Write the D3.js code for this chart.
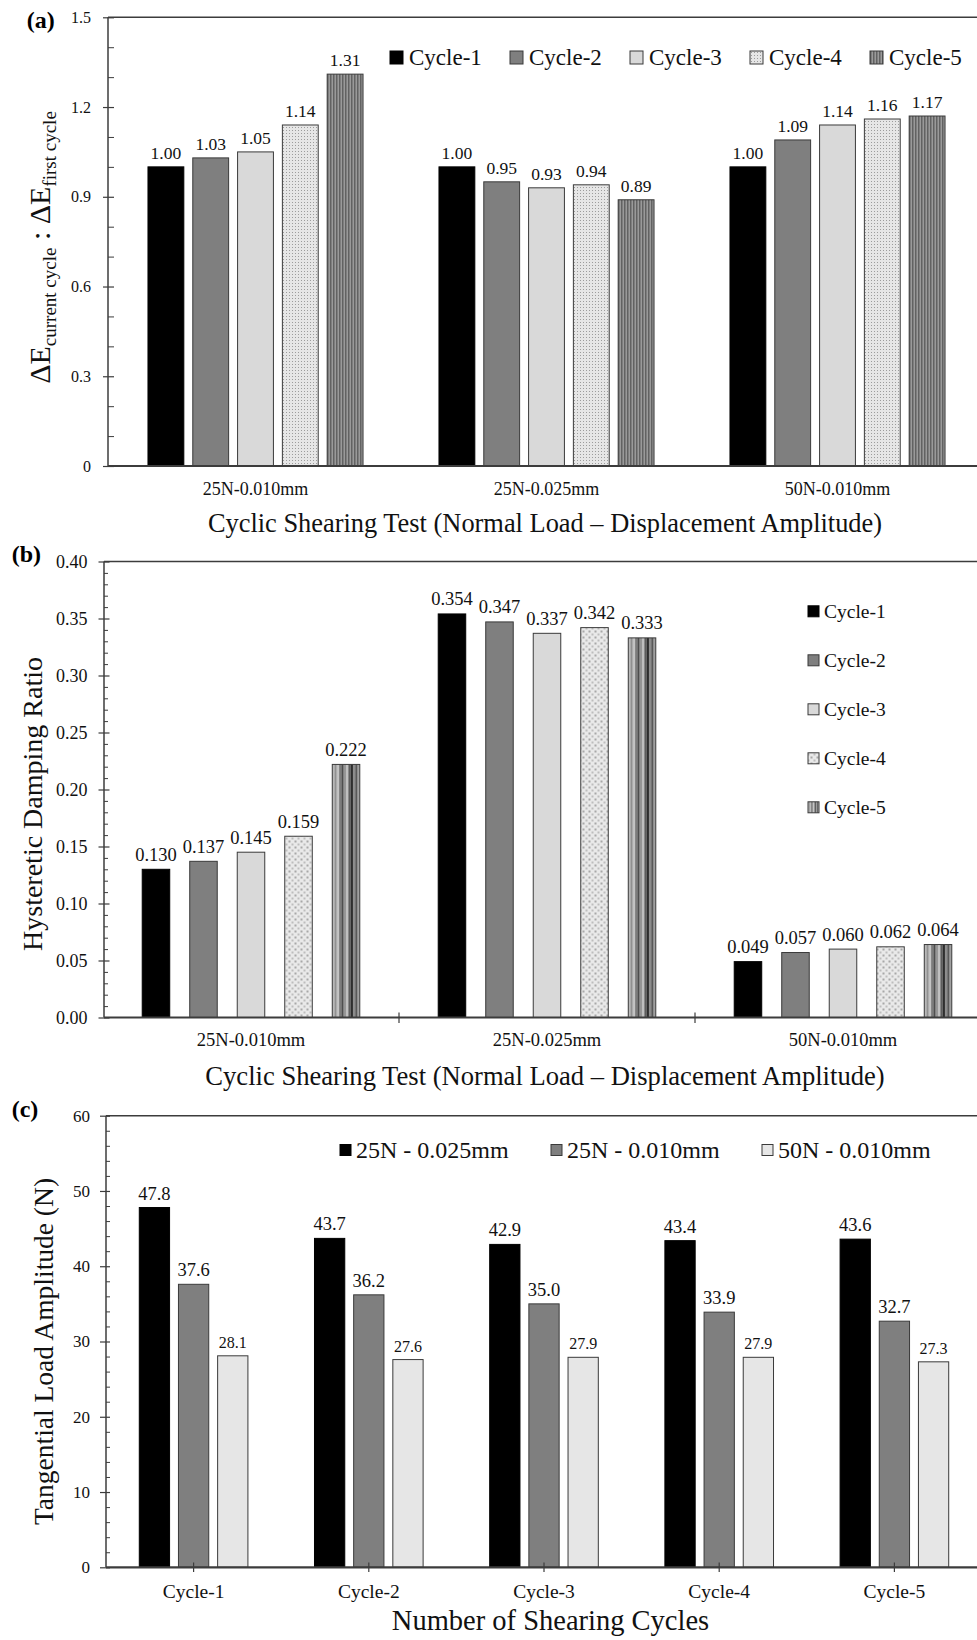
<!DOCTYPE html>
<html><head><meta charset="utf-8">
<script src="https://cdn.jsdelivr.net/npm/d3@7"></script>
<style>
body{margin:0;background:#fff;}
svg{display:block;}
</style></head><body>
<svg id="fig" width="977" height="1640"></svg>
<script>
// ---- data ----
const testGroups = ["25N-0.010mm", "25N-0.025mm", "50N-0.010mm"];
const cycleNames = ["Cycle-1", "Cycle-2", "Cycle-3", "Cycle-4", "Cycle-5"];

// (a) energy ratio, one array per test (Cycle-1..Cycle-5)
const ratio25N010 = [1.00, 1.03, 1.05, 1.14, 1.31];
const ratio25N025 = [1.00, 0.95, 0.93, 0.94, 0.89];
const ratio50N010 = [1.00, 1.09, 1.14, 1.16, 1.17];
const ratioTicks = [0, 0.3, 0.6, 0.9, 1.2, 1.5];

// (b) hysteretic damping ratio, one array per test
const damp25N010 = [0.130, 0.137, 0.145, 0.159, 0.222];
const damp25N025 = [0.354, 0.347, 0.337, 0.342, 0.333];
const damp50N010 = [0.049, 0.057, 0.060, 0.062, 0.064];
const dampTicks = [0, 0.05, 0.10, 0.15, 0.20, 0.25, 0.30, 0.35, 0.40];

// (c) tangential load amplitude, one array per test (across cycles)
const loadSeries = ["25N - 0.025mm", "25N - 0.010mm", "50N - 0.010mm"];
const load25N025 = [47.8, 43.7, 42.9, 43.4, 43.6];
const load25N010 = [37.6, 36.2, 35.0, 33.9, 32.7];
const load50N010 = [28.1, 27.6, 27.9, 27.9, 27.3];
const loadTicks = [0, 10, 20, 30, 40, 50, 60];

// ---- setup ----
const FONT = "'Liberation Serif','Times New Roman',serif";
const AX = "#3c3c3c";
const svg = d3.select("#fig").attr("font-family", FONT);
const defs = svg.append("defs");

// fine stipple (a, Cycle-4)
const pa4 = defs.append("pattern").attr("id", "a4").attr("patternUnits", "userSpaceOnUse").attr("width", 3).attr("height", 3);
pa4.append("rect").attr("width", 3).attr("height", 3).attr("fill", "#e6e6e6");
pa4.append("rect").attr("x", 1).attr("y", 1).attr("width", 1).attr("height", 1).attr("fill", "#9c9c9c");
// fine vertical hatching (a, Cycle-5)
const pa5 = defs.append("pattern").attr("id", "a5").attr("patternUnits", "userSpaceOnUse").attr("width", 3).attr("height", 3);
pa5.append("rect").attr("width", 3).attr("height", 3).attr("fill", "#9a9a9a");
pa5.append("rect").attr("width", 1.5).attr("height", 3).attr("fill", "#626262");
// checker dots (b, Cycle-4)
const pb4 = defs.append("pattern").attr("id", "b4").attr("patternUnits", "userSpaceOnUse").attr("width", 6).attr("height", 6);
pb4.append("rect").attr("width", 6).attr("height", 6).attr("fill", "#e9e9e9");
pb4.append("rect").attr("x", 0.5).attr("y", 0.5).attr("width", 2).attr("height", 2).attr("fill", "#a8a8a8");
pb4.append("rect").attr("x", 3.5).attr("y", 3.5).attr("width", 2).attr("height", 2).attr("fill", "#bdbdbd");
// banded vertical stripes (b, Cycle-5), spread over each bar's width
const pb5 = defs.append("pattern").attr("id", "b5")
  .attr("patternUnits", "objectBoundingBox").attr("patternContentUnits", "objectBoundingBox")
  .attr("width", 1).attr("height", 1);
const stripeTones = ["#b8b8b8", "#8a8a8a", "#c4c4c4", "#7c7c7c", "#4a4a4a", "#969696",
                     "#c0c0c0", "#5c5c5c", "#2e2e2e", "#8e8e8e", "#4e4e4e", "#a0a0a0"];
stripeTones.forEach((c, i) => pb5.append("rect")
  .attr("x", i / stripeTones.length).attr("y", 0)
  .attr("width", 1 / stripeTones.length + 0.002).attr("height", 1).attr("fill", c));

const fillsA = ["#000000", "#7f7f7f", "#d9d9d9", "url(#a4)", "url(#a5)"];
const fillsB = ["#000000", "#7f7f7f", "#d9d9d9", "url(#b4)", "url(#b5)"];
const fillsC = ["#000000", "#7f7f7f", "#e6e6e6"];
const strokeOf = f => f === "#000000" ? "#000" : "#3a3a3a";

// y axis with crossing major ticks and inside minor ticks
function yAxis(y, x, majors, minors, fmt, o) {
  const g = svg.append("g");
  g.append("g").attr("transform", `translate(${x},0)`)
    .call(d3.axisLeft(y).tickValues(majors).tickFormat(fmt).tickSize(o.outer).tickSizeOuter(0).tickPadding(o.pad))
    .call(s => s.select(".domain").remove())
    .call(s => s.selectAll("line").attr("stroke", AX).attr("stroke-width", 1.2))
    .call(s => s.selectAll("text").attr("font-size", o.font).attr("font-family", FONT).attr("fill", "#111"));
  g.append("g").attr("transform", `translate(${x},0)`)
    .call(d3.axisRight(y).tickValues(majors).tickFormat("").tickSize(o.inner).tickSizeOuter(0))
    .call(s => s.select(".domain").remove())
    .call(s => s.selectAll("line").attr("stroke", AX).attr("stroke-width", 1.2));
  const majorSet = majors.map(v => +v.toFixed(6));
  g.append("g").attr("transform", `translate(${x},0)`)
    .call(d3.axisRight(y).tickValues(minors.filter(v => !majorSet.includes(+v.toFixed(6)))).tickFormat("").tickSize(o.minor).tickSizeOuter(0))
    .call(s => s.select(".domain").remove())
    .call(s => s.selectAll("line").attr("stroke", AX).attr("stroke-width", 1));
  const [y0, y1] = y.range();
  g.append("line").attr("x1", x).attr("x2", x).attr("y1", y0).attr("y2", y1)
    .attr("stroke", AX).attr("stroke-width", 1.5);
  // top frame line
  g.append("line").attr("x1", x).attr("x2", 977).attr("y1", y1).attr("y2", y1)
    .attr("stroke", AX).attr("stroke-width", 1.5);
}

function bars(x0, x1, y, cats, series, valueAt, fills, labelFmt, labelSize, gap) {
  cats.forEach((c, ci) => {
    series.forEach((s, si) => {
      const v = valueAt(ci, si);
      const bx = x0(c) + x1(s);
      const f = fills[si];
      svg.append("rect")
        .attr("x", bx).attr("y", y(v))
        .attr("width", x1.bandwidth()).attr("height", y(0) - y(v))
        .attr("fill", f).attr("stroke", strokeOf(f)).attr("stroke-width", 1);
      svg.append("text")
        .attr("x", bx + x1.bandwidth() / 2).attr("y", y(v) - gap)
        .attr("text-anchor", "middle")
        .attr("font-size", Array.isArray(labelSize) ? labelSize[si] : labelSize)
        .attr("fill", "#111")
        .text(labelFmt(v));
    });
  });
}

function xAxisLine(x, xEnd, yPos) {
  svg.append("line").attr("x1", x).attr("x2", xEnd).attr("y1", yPos).attr("y2", yPos)
    .attr("stroke", AX).attr("stroke-width", 2.2);
}

function xLabels(x0, cats, yBase, size) {
  cats.forEach(c => svg.append("text")
    .attr("x", x0(c) + x0.bandwidth() / 2).attr("y", yBase)
    .attr("text-anchor", "middle").attr("font-size", size).attr("fill", "#111").text(c));
}

function square(x, yc, size, fill) {
  svg.append("rect").attr("x", x).attr("y", yc - size / 2).attr("width", size).attr("height", size)
    .attr("fill", fill).attr("stroke", strokeOf(fill)).attr("stroke-width", 1);
}

// ================= (a) =================
{
  const rows = [ratio25N010, ratio25N025, ratio50N010];
  const y = d3.scaleLinear().domain([0, 1.5]).range([466, 17.3]);
  const x0 = d3.scaleBand().domain(testGroups).range([110, 983]).paddingInner(0.261).paddingOuter(0.1305);
  const x1 = d3.scaleBand().domain(cycleNames).range([0, x0.bandwidth()]).paddingInner(0.2);
  bars(x0, x1, y, testGroups, cycleNames, (ci, si) => rows[ci][si], fillsA, d3.format(".2f"), 17.5, 8);
  yAxis(y, 108, ratioTicks, y.ticks(15), d => d === 0 ? "0" : d3.format(".1f")(d),
        {outer: 5, inner: 6, minor: 6, pad: 12, font: 16});
  xAxisLine(108, 977, 466);
  xLabels(x0, testGroups, 495, 18);
  svg.append("text").attr("x", 545).attr("y", 532).attr("text-anchor", "middle")
    .attr("font-size", 26.4).attr("fill", "#111")
    .text("Cyclic Shearing Test (Normal Load \u2013 Displacement Amplitude)");
  const t = svg.append("text").attr("transform", "translate(50,247.5) rotate(-90)")
    .attr("text-anchor", "middle").attr("font-size", 30).attr("fill", "#111");
  t.append("tspan").text("\u0394E");
  t.append("tspan").attr("font-size", 19).attr("dy", 6).text("current cycle");
  t.append("tspan").attr("dy", -6).text(" : \u0394E");
  t.append("tspan").attr("font-size", 19).attr("dy", 6).text("first cycle");
  svg.append("text").attr("x", 26.7).attr("y", 28).attr("font-size", 24).attr("font-weight", "bold").text("(a)");
  // legend row
  cycleNames.forEach((s, i) => {
    const lx = 390 + i * 120;
    square(lx, 57.5, 13, fillsA[i]);
    svg.append("text").attr("x", lx + 19).attr("y", 65).attr("font-size", 23).attr("fill", "#111").text(s);
  });
}

// ================= (b) =================
{
  const rows = [damp25N010, damp25N025, damp50N010];
  const y = d3.scaleLinear().domain([0, 0.4]).range([1017.5, 561.5]);
  const x0 = d3.scaleBand().domain(testGroups).range([103, 991]).paddingInner(0.265).paddingOuter(0.1325);
  const x1 = d3.scaleBand().domain(cycleNames).range([0, x0.bandwidth()]).paddingInner(0.421);
  bars(x0, x1, y, testGroups, cycleNames, (ci, si) => rows[ci][si], fillsB, d3.format(".3f"), 18.5, 8.5);
  yAxis(y, 104, dampTicks, y.ticks(40), d3.format(".2f"),
        {outer: 5.5, inner: 5.5, minor: 4, pad: 11, font: 18});
  xAxisLine(104, 977, 1017.5);
  // separators between test groups
  testGroups.slice(1).forEach(c => {
    const bx = x0(c) - x0.step() * x0.paddingInner() / 2;
    svg.append("line").attr("x1", bx).attr("x2", bx).attr("y1", 1012.5).attr("y2", 1023)
      .attr("stroke", AX).attr("stroke-width", 1.2);
  });
  xLabels(x0, testGroups, 1046, 18.5);
  svg.append("text").attr("x", 545).attr("y", 1085).attr("text-anchor", "middle")
    .attr("font-size", 26.6).attr("fill", "#111")
    .text("Cyclic Shearing Test (Normal Load \u2013 Displacement Amplitude)");
  svg.append("text").attr("transform", "translate(42,804) rotate(-90)")
    .attr("text-anchor", "middle").attr("font-size", 28).attr("fill", "#111").text("Hysteretic Damping Ratio");
  svg.append("text").attr("x", 11.7).attr("y", 562).attr("font-size", 24).attr("font-weight", "bold").text("(b)");
  // legend column
  cycleNames.forEach((s, i) => {
    const yc = 611.3 + i * 49;
    square(808, yc, 11, fillsB[i]);
    svg.append("text").attr("x", 824).attr("y", yc + 7).attr("font-size", 19.5).attr("fill", "#111").text(s);
  });
}

// ================= (c) =================
{
  const cols = [load25N025, load25N010, load50N010];
  const y = d3.scaleLinear().domain([0, 60]).range([1567.3, 1115.7]);
  const x0 = d3.scaleBand().domain(cycleNames).range([106, 982]).paddingInner(0.38).paddingOuter(0.19);
  const x1 = d3.scaleBand().domain(loadSeries).range([0, x0.bandwidth()]).paddingInner(0.227);
  bars(x0, x1, y, cycleNames, loadSeries, (ci, si) => cols[si][ci], fillsC, d3.format(".1f"), [18.5, 18.5, 16], 8);
  yAxis(y, 106, loadTicks, y.ticks(30), d3.format("d"),
        {outer: 6, inner: 4, minor: 4, pad: 10, font: 17});
  xAxisLine(106, 977, 1567.3);
  cycleNames.forEach(c => {
    const cx = x0(c) + x0.bandwidth() / 2;
    svg.append("line").attr("x1", cx).attr("x2", cx).attr("y1", 1562.5).attr("y2", 1572)
      .attr("stroke", AX).attr("stroke-width", 1.2);
  });
  xLabels(x0, cycleNames, 1598, 19.5);
  svg.append("text").attr("x", 550.5).attr("y", 1630).attr("text-anchor", "middle")
    .attr("font-size", 28.5).attr("fill", "#111").text("Number of Shearing Cycles");
  svg.append("text").attr("transform", "translate(53,1351.5) rotate(-90)")
    .attr("text-anchor", "middle").attr("font-size", 27.5).attr("fill", "#111").text("Tangential Load Amplitude (N)");
  svg.append("text").attr("x", 11.7).attr("y", 1117).attr("font-size", 24).attr("font-weight", "bold").text("(c)");
  // legend row
  loadSeries.forEach((s, i) => {
    const lx = 340 + i * 211;
    square(lx, 1150, 11, fillsC[i]);
    svg.append("text").attr("x", lx + 16).attr("y", 1158.3).attr("font-size", 24).attr("fill", "#111").text(s);
  });
}
</script>
</body></html>
